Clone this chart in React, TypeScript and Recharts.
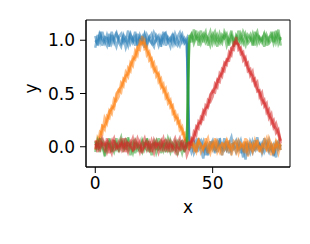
import { LineChart, Line, XAxis, YAxis, ReferenceArea } from 'recharts'

// x positions 0..79
const steps = Array.from({ length: 80 }, (_, i) => i)

const blue1 = [
    1.04, 0.95, 1.06, 1.01, 0.97, 1.05, 0.98, 1.08, 1.0, 0.94,
    1.03, 1.06, 0.98, 1.02, 0.95, 1.05, 1.0, 1.08, 0.97, 1.03,
    0.98, 1.05, 0.95, 1.02, 1.06, 0.97, 1.0, 1.04, 0.94, 1.05,
    1.07, 0.98, 1.02, 0.96, 1.06, 1.0, 0.95, 1.03, 0.98, 1.02,
    0.03, -0.05, 0.02, 0.06, -0.03, 0.0, 0.05, -0.08, 0.02, -0.02,
    0.03, -0.06, 0.05, 0.0, -0.03, 0.08, -0.02, 0.03, -0.05, 0.02,
    0.06, -0.03, 0.0, -0.1, 0.03, 0.02, -0.05, 0.05, -0.02, 0.0,
    0.03, -0.06, 0.02, 0.05, -0.03, 0.0, -0.08, 0.03, -0.02, 0.02,
]
const blue2 = [
    0.93, 1.05, 0.98, 1.08, 1.0, 0.95, 1.06, 0.97, 1.03, 1.07,
    0.98, 0.94, 1.05, 1.0, 1.09, 0.97, 1.02, 0.95, 1.06, 0.98,
    1.03, 0.93, 1.05, 1.0, 0.97, 1.07, 1.02, 0.95, 1.03, 0.98,
    1.05, 1.0, 0.94, 1.06, 0.97, 1.03, 1.07, 0.98, 1.02, 0.97,
    -0.03, 0.05, -0.06, 0.0, 0.08, -0.02, -0.11, 0.03, -0.05, 0.02,
    0.06, -0.03, 0.0, 0.05, -0.08, 0.02, -0.03, 0.03, 0.09, -0.02,
    0.0, 0.05, -0.06, 0.02, -0.12, 0.03, 0.0, -0.05, 0.06, -0.02,
    0.02, -0.03, 0.08, 0.0, -0.05, 0.03, -0.09, 0.02, 0.05, -0.03,
]
const blue3 = [
    1.0, 0.97, 1.08, 0.95, 1.03, 1.02, 0.94, 1.05, 0.98, 1.06,
    1.02, 0.97, 1.03, 0.93, 1.0, 1.06, 0.98, 1.03, 0.95, 1.05,
    1.0, 1.06, 0.97, 1.03, 0.98, 0.94, 1.05, 1.02, 0.97, 1.08,
    0.95, 1.03, 1.0, 1.05, 0.98, 0.95, 1.02, 1.06, 0.97, 1.0,
    0.02, 0.0, 0.05, -0.05, 0.03, 0.06, -0.03, 0.02, -0.08, 0.05,
    -0.02, 0.03, -0.05, 0.08, 0.0, -0.03, 0.05, -0.06, 0.02, 0.03,
    -0.05, 0.0, 0.06, -0.03, 0.02, -0.08, 0.05, 0.0, -0.03, 0.09,
    -0.02, 0.03, -0.05, 0.0, 0.06, -0.03, 0.02, -0.1, 0.03, 0.0,
]

const orange1 = [
    0.03, 0.01, 0.14, 0.12, 0.27, 0.22, 0.34, 0.31, 0.45, 0.43,
    0.47, 0.6, 0.57, 0.7, 0.66, 0.79, 0.76, 0.9, 0.86, 0.99,
    0.96, 1.0, 0.86, 0.89, 0.76, 0.79, 0.66, 0.69, 0.56, 0.59,
    0.46, 0.49, 0.37, 0.39, 0.26, 0.29, 0.16, 0.19, 0.06, 0.08,
    0.0, 0.05, -0.03, 0.02, 0.06, -0.05, 0.0, 0.03, -0.06, 0.05,
    -0.02, 0.08, 0.0, -0.05, 0.03, 0.02, -0.03, 0.06, -0.08, 0.02,
    0.05, -0.02, 0.0, 0.03, -0.06, 0.05, 0.02, -0.03, 0.06, -0.02,
    0.0, -0.05, 0.03, 0.08, -0.03, 0.02, -0.06, 0.05, 0.0, 0.03,
]
const orange2 = [
    -0.03, 0.09, 0.06, 0.19, 0.16, 0.29, 0.27, 0.38, 0.36, 0.5,
    0.53, 0.51, 0.64, 0.62, 0.74, 0.71, 0.84, 0.82, 0.93, 0.91,
    1.04, 0.92, 0.94, 0.81, 0.83, 0.71, 0.74, 0.61, 0.64, 0.52,
    0.55, 0.41, 0.44, 0.31, 0.33, 0.22, 0.24, 0.12, 0.13, 0.01,
    -0.02, 0.06, 0.0, -0.05, 0.05, 0.02, -0.03, 0.08, 0.0, -0.06,
    0.03, -0.02, 0.05, 0.0, -0.08, 0.03, 0.06, -0.03, 0.02, 0.0,
    -0.05, 0.06, 0.02, -0.03, 0.05, -0.09, 0.0, 0.03, -0.02, 0.06,
    -0.05, 0.02, 0.0, -0.03, 0.08, 0.02, -0.05, 0.03, -0.06, 0.02,
]
const orange3 = [
    0.05, 0.04, 0.07, 0.2, 0.19, 0.24, 0.33, 0.36, 0.38, 0.47,
    0.54, 0.56, 0.62, 0.67, 0.68, 0.77, 0.82, 0.84, 0.94, 0.96,
    0.98, 0.97, 0.91, 0.87, 0.82, 0.73, 0.7, 0.68, 0.58, 0.55,
    0.5, 0.44, 0.42, 0.36, 0.28, 0.27, 0.19, 0.17, 0.09, 0.04,
    0.03, 0.0, 0.03, -0.05, 0.06, 0.02, -0.02, 0.03, 0.08, -0.03,
    0.02, 0.05, -0.05, 0.0, 0.03, -0.02, 0.06, 0.0, -0.03, 0.05,
    0.02, -0.06, 0.03, 0.0, 0.08, -0.02, 0.03, -0.05, 0.02, 0.05,
    -0.03, 0.0, 0.06, -0.02, 0.03, -0.08, 0.02, 0.0, 0.05, -0.03,
]

const green1 = [
    0.05, -0.03, 0.08, 0.0, -0.06, 0.03, 0.02, -0.05, 0.06, -0.02,
    0.03, 0.09, -0.03, 0.0, 0.05, -0.08, 0.02, 0.06, -0.03, 0.0,
    0.05, -0.02, 0.08, -0.05, 0.02, 0.03, -0.06, 0.0, 0.05, -0.03,
    0.06, 0.02, -0.05, 0.03, 0.0, -0.08, 0.05, 0.02, -0.03, 0.03,
    0.97, 1.05, 1.0, 1.09, 0.95, 1.03, 1.06, 0.98, 1.02, 1.08,
    0.97, 1.03, 0.94, 1.06, 1.0, 1.05, 0.95, 1.02, 1.09, 0.98,
    1.03, 0.97, 1.06, 1.0, 0.95, 1.05, 1.02, 0.98, 1.08, 0.97,
    1.03, 1.0, 1.06, 0.95, 1.02, 1.05, 0.98, 1.09, 0.97, 1.03,
]
const green2 = [
    -0.05, 0.06, 0.0, 0.03, -0.09, 0.02, 0.05, -0.03, 0.0, 0.08,
    -0.05, 0.02, 0.05, -0.03, 0.09, 0.0, -0.06, 0.03, 0.02, -0.05,
    0.06, 0.0, -0.03, 0.05, -0.08, 0.02, 0.06, -0.02, 0.0, 0.03,
    -0.05, 0.08, 0.02, -0.03, 0.05, 0.0, -0.02, 0.06, -0.05, 0.02,
    1.05, 0.98, 1.1, 1.02, 1.06, 0.97, 1.03, 1.08, 0.95, 1.02,
    1.06, 0.98, 1.05, 1.0, 0.97, 1.08, 1.03, 0.95, 1.05, 1.0,
    0.98, 1.09, 1.02, 0.97, 1.06, 1.0, 1.05, 0.95, 1.03, 1.08,
    0.98, 1.02, 0.94, 1.05, 1.0, 1.08, 0.97, 1.03, 1.1, 0.95,
]
const green3 = [
    0.02, 0.03, -0.05, 0.06, 0.02, -0.03, 0.08, 0.0, -0.05, 0.03,
    -0.02, 0.05, 0.0, 0.08, -0.03, 0.02, 0.05, -0.06, 0.03, 0.0,
    -0.05, 0.03, 0.06, -0.02, 0.0, 0.05, -0.03, 0.08, -0.06, 0.02,
    0.03, -0.05, 0.06, 0.0, -0.03, 0.05, 0.02, -0.06, 0.03, 0.0,
    1.02, 1.06, 0.97, 1.03, 1.0, 1.09, 0.98, 1.05, 1.02, 0.95,
    1.03, 1.08, 1.0, 0.97, 1.05, 1.02, 1.06, 0.98, 1.03, 0.94,
    1.05, 1.02, 0.98, 1.08, 1.03, 0.97, 1.0, 1.06, 0.95, 1.05,
    1.02, 0.98, 1.06, 1.03, 0.97, 1.0, 1.08, 0.98, 1.05, 1.0,
]

const red1 = [
    0.03, -0.05, 0.06, 0.02, -0.03, 0.08, 0.0, -0.06, 0.05, 0.02,
    -0.03, 0.06, 0.0, 0.03, -0.05, 0.02, 0.08, -0.02, 0.0, 0.05,
    -0.06, 0.03, 0.02, -0.03, 0.06, 0.0, 0.05, -0.05, 0.02, 0.08,
    -0.03, 0.0, 0.05, -0.02, 0.03, -0.06, 0.02, 0.05, -0.03, 0.0,
    0.03, 0.02, 0.14, 0.11, 0.24, 0.22, 0.34, 0.31, 0.44, 0.42,
    0.47, 0.59, 0.56, 0.69, 0.66, 0.79, 0.77, 0.89, 0.86, 0.98,
    0.97, 0.96, 0.87, 0.89, 0.77, 0.79, 0.67, 0.71, 0.58, 0.61,
    0.47, 0.51, 0.38, 0.41, 0.27, 0.31, 0.18, 0.22, 0.14, 0.06,
]
const red2 = [
    -0.02, 0.05, 0.0, 0.08, 0.03, -0.05, 0.02, 0.06, -0.03, 0.0,
    0.05, -0.02, 0.08, -0.05, 0.03, 0.0, -0.03, 0.06, 0.02, -0.05,
    0.03, 0.08, -0.02, 0.05, 0.0, -0.06, 0.03, 0.02, 0.06, -0.03,
    0.0, 0.05, -0.05, 0.03, 0.08, 0.0, -0.03, 0.02, 0.05, -0.08,
    -0.02, 0.08, 0.06, 0.19, 0.17, 0.28, 0.26, 0.39, 0.37, 0.49,
    0.52, 0.51, 0.63, 0.61, 0.73, 0.71, 0.82, 0.81, 0.92, 0.91,
    1.03, 0.91, 0.93, 0.81, 0.84, 0.71, 0.73, 0.62, 0.64, 0.52,
    0.53, 0.41, 0.44, 0.32, 0.35, 0.22, 0.25, 0.13, 0.16, 0.03,
]
const red3 = [
    0.06, 0.0, -0.03, 0.03, 0.02, 0.05, -0.06, 0.03, 0.08, -0.02,
    0.0, 0.03, -0.05, 0.06, 0.02, 0.05, -0.03, 0.0, 0.08, 0.02,
    -0.03, 0.0, 0.05, 0.02, -0.05, 0.06, 0.0, 0.03, -0.02, 0.05,
    0.06, -0.03, 0.02, 0.0, -0.05, 0.03, 0.08, -0.02, 0.0, 0.03,
    0.04, 0.05, 0.09, 0.17, 0.22, 0.23, 0.32, 0.36, 0.38, 0.47,
    0.53, 0.55, 0.62, 0.66, 0.69, 0.77, 0.81, 0.84, 0.93, 0.95,
    0.99, 0.96, 0.91, 0.86, 0.82, 0.74, 0.69, 0.67, 0.59, 0.54,
    0.51, 0.44, 0.41, 0.36, 0.29, 0.26, 0.19, 0.17, 0.11, 0.05,
]

const xTicks = [0, 50]
const yTicks = [0, 0.5, 1]

const X_DOMAIN: [number, number] = [-3.95, 82.95]
const Y_DOMAIN: [number, number] = [-0.19, 1.19]

const series = [
    { key: 'b1', values: blue1, color: '#1f77b4' },
    { key: 'b2', values: blue2, color: '#1f77b4' },
    { key: 'b3', values: blue3, color: '#1f77b4' },
    { key: 'o1', values: orange1, color: '#ff7f0e' },
    { key: 'o2', values: orange2, color: '#ff7f0e' },
    { key: 'o3', values: orange3, color: '#ff7f0e' },
    { key: 'g1', values: green1, color: '#2ca02c' },
    { key: 'g2', values: green2, color: '#2ca02c' },
    { key: 'g3', values: green3, color: '#2ca02c' },
    { key: 'r1', values: red1, color: '#d62728' },
    { key: 'r2', values: red2, color: '#d62728' },
    { key: 'r3', values: red3, color: '#d62728' },
]

const data = steps.map((x, i) => {
    const row: Record<string, number> = { x }
    series.forEach((s) => {
        row[s.key] = s.values[i]
    })
    return row
})

const font = 'DejaVu Sans, sans-serif'
const tickStyle = { fontSize: 17, fill: '#000', fontFamily: font }

export default function App() {
    return (
        <div style={{ position: 'absolute', left: 0, top: 0, width: 310, height: 244, background: '#fff' }}>
            <LineChart width={310} height={244} data={data} margin={{ top: 20, right: 20, left: 26, bottom: 47 }}>
                <XAxis
                    dataKey="x"
                    type="number"
                    domain={X_DOMAIN}
                    ticks={xTicks}
                    height={30}
                    tick={tickStyle}
                    tickSize={6}
                    tickMargin={4}
                    stroke="#000"
                    label={{ value: 'x', position: 'bottom', offset: 4, fontSize: 17, fill: '#000', fontFamily: font }}
                />
                <YAxis
                    type="number"
                    domain={Y_DOMAIN}
                    ticks={yTicks}
                    width={60}
                    tick={tickStyle}
                    tickSize={6}
                    tickMargin={5}
                    tickFormatter={(v: number) => v.toFixed(1)}
                    stroke="#000"
                    label={{ value: 'y', angle: -90, position: 'insideLeft', offset: 5, fontSize: 17, fill: '#000', fontFamily: font }}
                />
                {series.map((s) => (
                    <Line
                        key={s.key}
                        dataKey={s.key}
                        stroke={s.color}
                        strokeOpacity={0.5}
                        strokeWidth={2.5}
                        dot={false}
                        isAnimationActive={false}
                    />
                ))}
                <ReferenceArea
                    x1={X_DOMAIN[0]}
                    x2={X_DOMAIN[1]}
                    y1={Y_DOMAIN[0]}
                    y2={Y_DOMAIN[1]}
                    fill="none"
                    stroke="#000"
                    strokeWidth={1}
                />
            </LineChart>
        </div>
    )
}
